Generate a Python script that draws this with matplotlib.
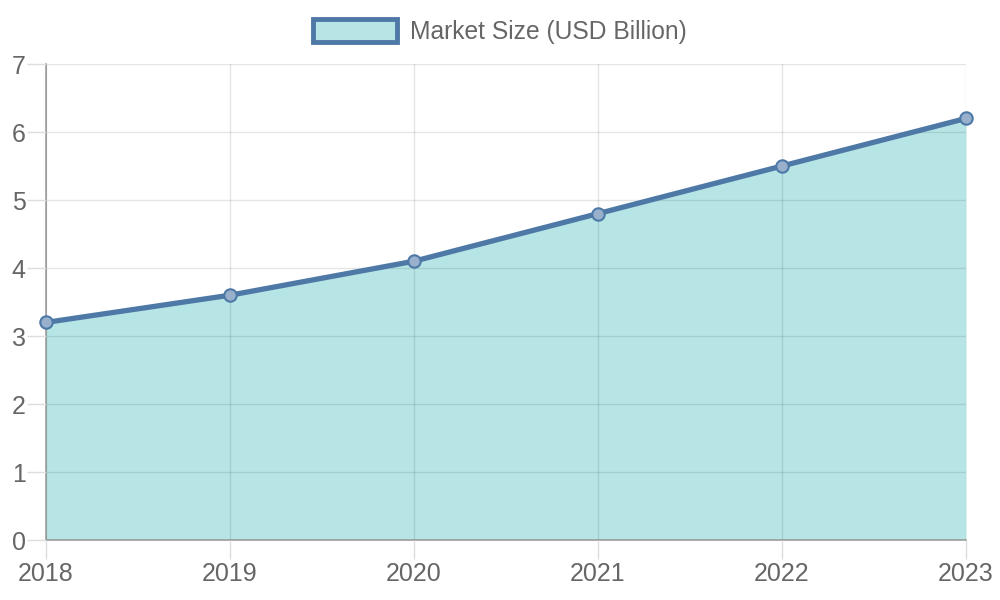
import matplotlib.pyplot as plt
from matplotlib.patches import Patch

years = ["2018", "2019", "2020", "2021", "2022", "2023"]
market_size = [3.2, 3.6, 4.1, 4.8, 5.5, 6.2]

line_color = "#4e79a7"
fill_color = (75 / 255, 192 / 255, 192 / 255, 0.4)
text_color = "#666666"

plt.rcParams["font.family"] = ["Liberation Sans", "DejaVu Sans"]

fig = plt.figure(figsize=(10, 6), dpi=100)
ax = fig.add_axes([0.046, 0.1, 0.92, 0.7933])

x = list(range(len(years)))
ax.fill_between(x, market_size, 0, color=fill_color, linewidth=0, zorder=1)
ax.plot(x, market_size, color=line_color, linewidth=3.8, zorder=3,
        solid_capstyle="round")
ax.scatter(x, market_size, s=80, facecolor=(0.6, 0.69, 0.8, 1.0),
           edgecolor=line_color, linewidth=1.5, zorder=4, clip_on=False)

ax.set_xlim(0, len(years) - 1)
ax.set_ylim(0, 7)
ax.set_xticks(x)
ax.set_xticklabels(years)
ax.set_yticks(range(0, 8))

ax.set_axisbelow(False)
ax.grid(True, color="black", alpha=0.1, linewidth=1, zorder=2)
for side in ["top", "right"]:
    ax.spines[side].set_visible(False)
for side in ["left", "bottom"]:
    ax.spines[side].set_color("#a0a0a0")
    ax.spines[side].set_linewidth(1.2)

ax.tick_params(axis="both", length=13.5, width=1, color="#dddddd",
               labelsize=18, labelcolor=text_color)
ax.tick_params(axis="x", pad=2.5)
ax.tick_params(axis="y", pad=1)

handle = Patch(facecolor=fill_color, edgecolor=line_color, linewidth=3.5,
               label="Market Size (USD Billion)")
fig.legend(handles=[handle], loc="center", bbox_to_anchor=(0.5, 0.947),
           frameon=False, fontsize=17.7, labelcolor=text_color,
           handlelength=3.4, handleheight=1.05, handletextpad=0.55)

plt.savefig("out.png", dpi=100)
